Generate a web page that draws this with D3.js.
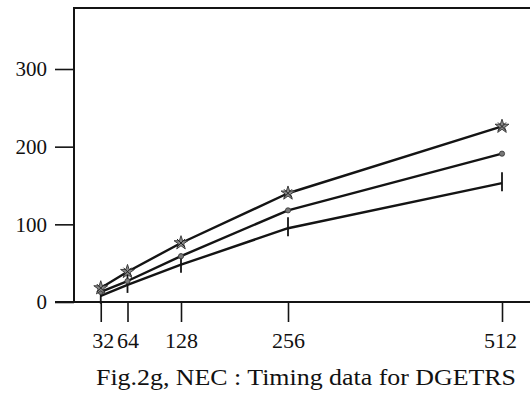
<!DOCTYPE html>
<html>
<head>
<meta charset="utf-8">
<script src="https://cdn.jsdelivr.net/npm/d3@7"></script>
<style>
  html, body { margin: 0; padding: 0; background: #fff; }
  svg { display: block; }
  text { font-family: "Liberation Serif", "Times New Roman", serif; fill: #111; }
</style>
</head>
<body>
<svg id="chart" width="530" height="396"></svg>
<script>
// Matrix order N and timing results for the three runs
const sizes = [32, 64, 128, 256, 512];
const timesStar = [18, 39, 76, 140, 226];
const timesDot = [13, 27, 59, 118, 191];
const timesBar = [8, 22, 48, 95, 153];
const yTicks = [0, 100, 200, 300];
const caption = "Fig.2g, NEC : Timing data for DGETRS";

const svg = d3.select("#chart");
const ink = "#141414";

const x = d3.scaleLinear().domain([0, 512]).range([74, 502]);
const y = d3.scaleLinear().domain([0, 300]).range([302, 69]);
const yTop = 8;

// Frame: left axis, top border, baseline
svg.append("line").attr("x1", 74).attr("x2", 74).attr("y1", yTop).attr("y2", y(0))
  .attr("stroke", ink).attr("stroke-width", 2);
svg.append("line").attr("x1", 73).attr("x2", 530).attr("y1", yTop).attr("y2", yTop)
  .attr("stroke", ink).attr("stroke-width", 2);
svg.append("line").attr("x1", 55).attr("x2", 530).attr("y1", y(0)).attr("y2", y(0))
  .attr("stroke", ink).attr("stroke-width", 2);

// Y axis
const yAxis = svg.append("g").attr("transform", "translate(74,0)")
  .call(d3.axisLeft(y).tickValues(yTicks).tickSize(19).tickSizeOuter(0).tickPadding(8));
yAxis.select(".domain").remove();
yAxis.selectAll(".tick line").attr("stroke", ink).attr("stroke-width", 1.6);
yAxis.selectAll(".tick text")
  .style("font-family", "'Liberation Serif', serif").style("font-size", "21px").attr("fill", ink);

// X axis
const xAxis = svg.append("g").attr("transform", `translate(0,${y(0)})`)
  .call(d3.axisBottom(x).tickValues(sizes).tickSize(20).tickSizeOuter(0).tickPadding(10));
xAxis.select(".domain").remove();
xAxis.selectAll(".tick line").attr("stroke", ink).attr("stroke-width", 1.6);
xAxis.selectAll(".tick text")
  .style("font-family", "'Liberation Serif', serif").style("font-size", "22px").attr("fill", ink);
xAxis.selectAll(".tick text").filter(d => d === 32).attr("dx", 2);
xAxis.selectAll(".tick text").filter(d => d === 512).attr("dx", -2);

// Series lines
const line = d3.line().x(d => x(d[0])).y(d => y(d[1]));
const series = [timesBar, timesDot, timesStar];
series.forEach(vals => {
  svg.append("path")
    .datum(sizes.map((s, i) => [s, vals[i]]))
    .attr("d", line)
    .attr("fill", "none")
    .attr("stroke", ink)
    .attr("stroke-width", 2.4)
    .attr("stroke-linejoin", "round");
});

// Markers: vertical bars
svg.append("g").selectAll("line")
  .data(sizes.map((s, i) => [s, timesBar[i]]))
  .join("line")
  .attr("x1", d => x(d[0])).attr("x2", d => x(d[0]))
  .attr("y1", d => y(d[1]) - 11).attr("y2", d => y(d[1]) + 8)
  .attr("stroke", ink).attr("stroke-width", 1.8);

// Markers: small dots
svg.append("g").selectAll("circle")
  .data(sizes.map((s, i) => [s, timesDot[i]]))
  .join("circle")
  .attr("cx", d => x(d[0])).attr("cy", d => y(d[1]))
  .attr("r", 2.6)
  .attr("fill", "#777").attr("stroke", "#333").attr("stroke-width", 0.8);

// Markers: stars
const starG = svg.append("g").selectAll("g")
  .data(sizes.map((s, i) => [s, timesStar[i]]))
  .join("g")
  .attr("transform", d => `translate(${x(d[0])},${y(d[1])})`);
starG.append("path")
  .attr("d", d3.symbol(d3.symbolStar, 60))
  .attr("fill", "#888").attr("stroke", "#333").attr("stroke-width", 0.9);
starG.append("path")
  .attr("d", "M-4,-4L4,4M4,-4L-4,4")
  .attr("stroke", "#222").attr("stroke-width", 1);

// Caption
svg.append("text")
  .attr("x", 306).attr("y", 385)
  .attr("text-anchor", "middle")
  .attr("textLength", 420)
  .attr("lengthAdjust", "spacingAndGlyphs")
  .style("font-size", "23px")
  .text(caption);
</script>
</body>
</html>
